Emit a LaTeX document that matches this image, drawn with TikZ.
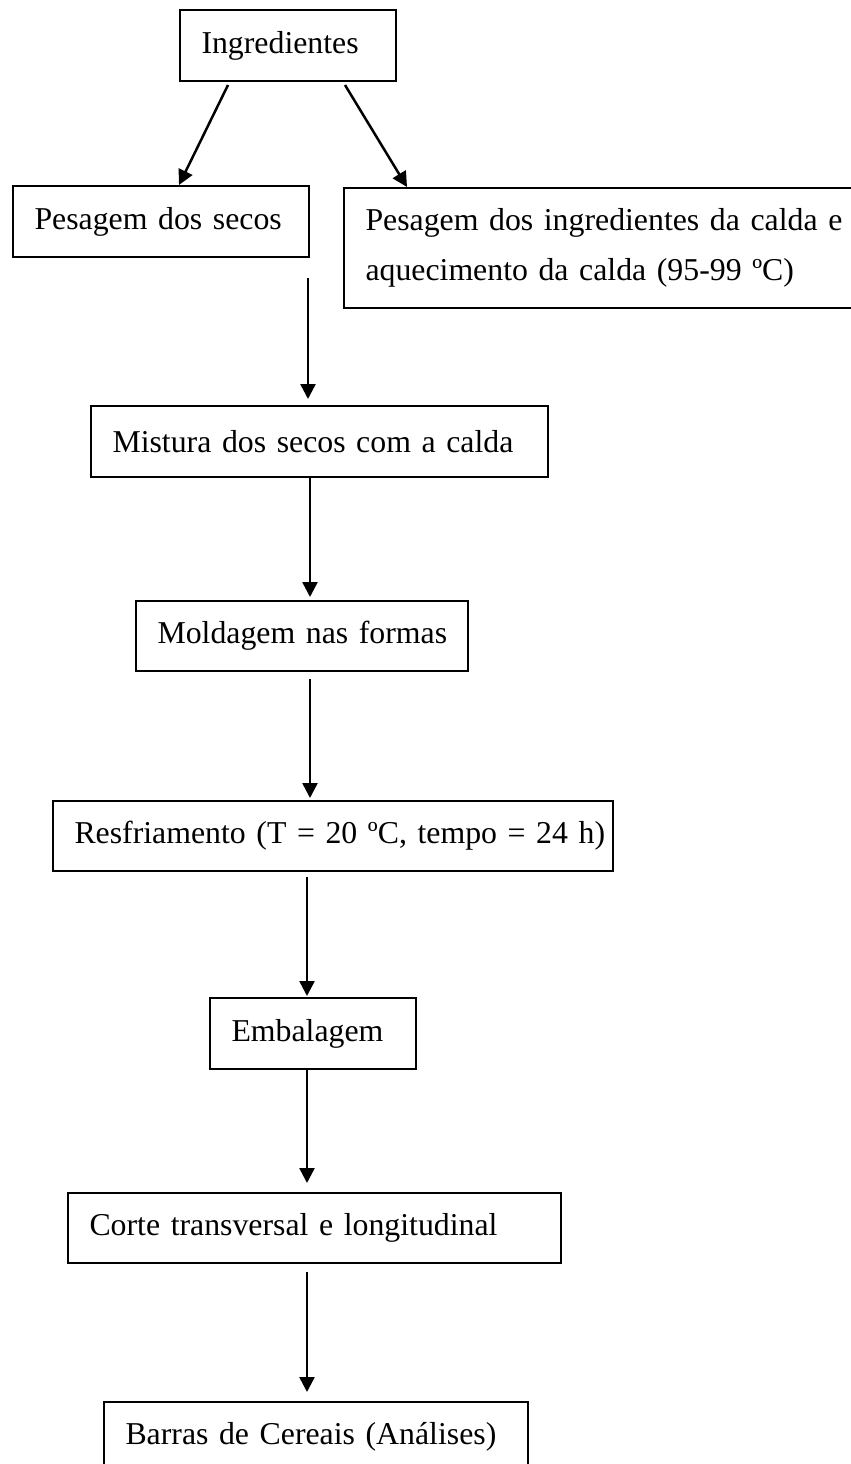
\documentclass[tikz,border=0pt]{standalone}
\usepackage{fontspec}
\setmainfont{Liberation Serif}
\usetikzlibrary{arrows.meta}
\begin{document}
\begin{tikzpicture}[x=1pt,y=-1pt,
  box/.style={draw, line width=2pt, rectangle, anchor=north west,
    inner xsep=21.5pt, inner ysep=0pt, align=left,
    font=\fontsize{31.8}{50}\selectfont},
  arr/.style={line width=2.5pt, -{Triangle[length=15pt,width=15pt]}}]
\useasboundingbox (0,0) rectangle (851,1464);
\node[box, text width=173pt, minimum height=71pt] (ing) at (179,9) {\mbox{Ingredientes}};
\node[box, text width=253pt, minimum height=71pt] (sec) at (12,185) {\mbox{Pesagem dos secos}};
\node[box, text width=497pt, minimum height=120pt] (cal) at (343,187) {\mbox{Pesagem dos ingredientes da calda e}\\\mbox{aquecimento da calda (95-99 ºC)}};
\node[box, text width=414pt, minimum height=71pt] (mis) at (90,405) {\mbox{Mistura dos secos com a calda}};
\node[box, text width=289pt, minimum height=70pt] (mol) at (135,600) {\mbox{Moldagem nas formas}};
\node[box, text width=517pt, minimum height=70pt] (res) at (52,800) {\mbox{Resfriamento (T = 20 ºC, tempo = 24 h)}};
\node[box, text width=163pt, minimum height=71pt] (emb) at (209,997) {\mbox{Embalagem}};
\node[box, text width=450pt, minimum height=70pt] (cor) at (67,1192) {\mbox{Corte transversal e longitudinal}};
\node[box, text width=381pt, minimum height=70pt] (bar) at (103,1401) {\mbox{Barras de Cereais (Análises)}};
\coordinate (s1) at (308,278);
\draw[arr] ([xshift=49pt,yshift=-3pt]ing.south west) -- ([xshift=167pt]sec.north west);
\draw[arr] ([xshift=166pt,yshift=-3pt]ing.south west) -- ([xshift=64pt]cal.north west);
\draw[arr] (s1) -- ([xshift=218pt,yshift=6pt]mis.north west);
\draw[arr] ([xshift=220pt]mis.south west) -- ([xshift=175pt,yshift=3pt]mol.north west);
\draw[arr] ([xshift=175pt,yshift=-7pt]mol.south west) -- ([xshift=258pt,yshift=2pt]res.north west);
\draw[arr] ([xshift=255pt,yshift=-5pt]res.south west) -- ([xshift=98pt,yshift=1pt]emb.north west);
\draw[arr] ([xshift=98pt]emb.south west) -- ([xshift=240pt,yshift=9pt]cor.north west);
\draw[arr] ([xshift=240pt,yshift=-8pt]cor.south west) -- ([xshift=204pt,yshift=9pt]bar.north west);
\end{tikzpicture}
\end{document}
